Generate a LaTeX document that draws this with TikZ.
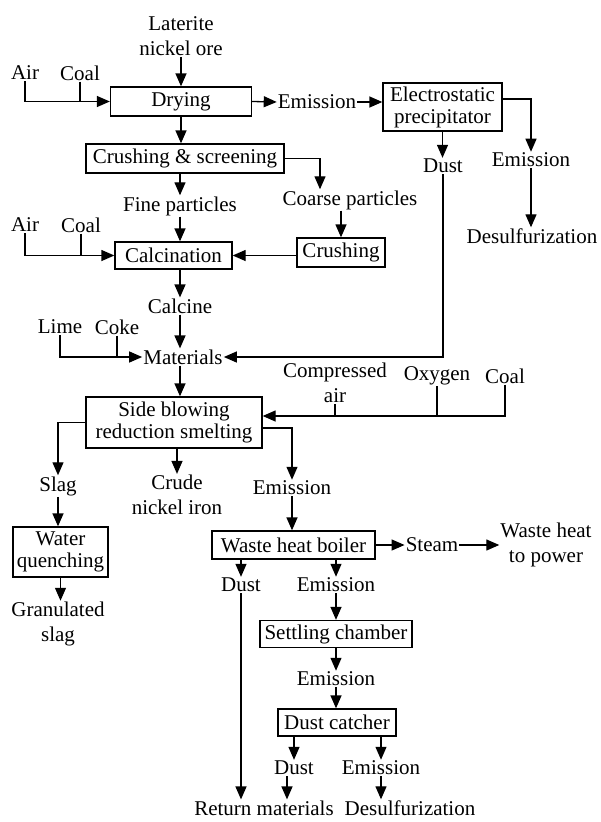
\documentclass[tikz,border=0pt]{standalone}
\usepackage{fontspec}
\setmainfont{Liberation Serif}
\usetikzlibrary{arrows.meta}
\begin{document}
\begin{tikzpicture}[x=1pt,y=-1pt,
  every node/.style={font=\fontsize{21}{25}\selectfont, inner sep=1pt},
  lbl/.style={align=center},
  box/.style={draw, line width=1.3pt, inner sep=0pt, align=center, font=\fontsize{21}{22}\selectfont},
  arr/.style={line width=1.3pt, -{Triangle[length=13pt,width=11pt]}},
  ln/.style={line width=1.3pt}]
\useasboundingbox (0,0) rectangle (600,822);
% nodes
\node[lbl] (ore) at (181,36) {Laterite\\nickel ore};
\node (air1) at (25,73) {Air};
\node (coal1) at (80,73) {Coal};
\node[box, minimum width=141, minimum height=29] (drying) at (181,101.5) {Drying};
\node (em1) at (317,102) {Emission};
\node[box, minimum width=119, minimum height=48] (esp) at (442.5,107) {Electrostatic\\precipitator};
\node (dust1) at (443,166) {Dust};
\node (em2) at (531,160) {Emission};
\node (des1) at (532,236) {Desulfurization};
\node[box, minimum width=198, minimum height=29] (cs) at (185,158.5) {Crushing \& screening};
\node (fine) at (180,206) {Fine particles};
\node (coarse) at (350,200) {Coarse particles};
\node[box, minimum width=88, minimum height=29] (crush) at (341,252.5) {Crushing};
\node (air2) at (25,225) {Air};
\node (coal2) at (81,225) {Coal};
\node[box, minimum width=117, minimum height=27] (calc) at (173.5,255.5) {Calcination};
\node (calcine) at (180,306) {Calcine};
\node (lime) at (60,327) {Lime};
\node (coke) at (117,327) {Coke};
\node (mat) at (183,357) {Materials};
\node[lbl] (comp) at (335,383) {Compressed\\air};
\node (oxy) at (437,376) {Oxygen};
\node (coal3) at (505,376) {Coal};
\node[box, minimum width=176, minimum height=51] (sb) at (174,422.5) {Side blowing\\reduction smelting};
\node (slag) at (58,486) {Slag};
\node[lbl] (crude) at (177,495) {Crude\\nickel iron};
\node (em3) at (292,488) {Emission};
\node[box, minimum width=95, minimum height=50] (wq) at (60.5,552) {Water\\quenching};
\node[lbl] (gran) at (58,624) {Granulated\\slag};
\node[box, minimum width=163, minimum height=28] (whb) at (293.5,545) {Waste heat boiler};
\node (steam) at (432,545) {Steam};
\node[lbl] (power) at (546,545) {Waste heat\\to power};
\node (dust2) at (241,585) {Dust};
\node (em4) at (336,585) {Emission};
\node[box, minimum width=152, minimum height=27] (settle) at (336,634) {Settling chamber};
\node (em5) at (336,679) {Emission};
\node[box, minimum width=118, minimum height=27] (dc) at (337,722.5) {Dust catcher};
\node (dust3) at (294,768) {Dust};
\node (em6) at (381,768) {Emission};
\node (ret) at (264,808) {Return materials};
\node (des2) at (410,808) {Desulfurization};
% connectors
\draw[arr] (ore.south) -- (ore.south |- drying.north);
\draw[arr] (air1.south) |- (drying.west);
\draw[ln] (coal1.south) -- (coal1.south |- drying.west);
\draw[arr] (drying.east) -- (em1.west);
\draw[arr] (em1.east) -- (em1.east -| esp.west);
\draw[arr] (esp.south) -- (esp.south |- dust1.north);
\draw[arr] ([yshift=8pt]esp.east) -| (em2.north);
\draw[arr] (em2.south) -- (em2.south |- des1.north);
\draw[arr] (dust1.south) |- (mat.east);
\draw[arr] (drying.south) -- (drying.south |- cs.north);
\draw[arr] (fine.north |- cs.south) -- (fine.north);
\draw[arr] (cs.east) -| ([xshift=-30pt]coarse.north);
\draw[arr] (crush.north |- coarse.south) -- (crush.north);
\draw[arr] (crush.west |- calc.east) -- (calc.east);
\draw[arr] (fine.south) -- (fine.south |- calc.north);
\draw[arr] (air2.south) |- (calc.west);
\draw[ln] (coal2.south) -- (coal2.south |- calc.west);
\draw[arr] (calcine.north |- calc.south) -- (calcine.north);
\draw[arr] (calcine.south) -- (calcine.south |- mat.north);
\draw[arr] (lime.south) |- (mat.west);
\draw[ln] (coke.south) -- (coke.south |- mat.west);
\draw[arr] (mat.south -| calcine.south) -- (calcine.south |- sb.north);
\coordinate (sbin) at ([yshift=6.5pt]sb.east);
\draw[arr] (coal3.south) |- (sbin);
\draw[ln] (oxy.south) -- (oxy.south |- sbin);
\draw[ln] (comp.south) -- (comp.south |- sbin);
\draw[arr] (sb.west) -| (slag.north);
\draw[arr] (crude.north |- sb.south) -- (crude.north);
\draw[arr] ([yshift=-5.5pt]sb.east) -| (em3.north);
\draw[arr] (slag.south) -- (slag.south |- wq.north);
\draw[arr] (wq.south) -- (wq.south |- gran.north);
\draw[arr] (em3.south) -- (em3.south |- whb.north);
\draw[arr] (whb.east) -- (steam.west);
\draw[arr] (steam.east) -- (power.west);
\draw[arr] (dust2.north |- whb.south) -- (dust2.north);
\draw[arr] (em4.north |- whb.south) -- (em4.north);
\draw[arr] (dust2.south) -- (dust2.south |- ret.north);
\draw[arr] (em4.south) -- (em4.south |- settle.north);
\draw[arr] (em5.north |- settle.south) -- (em5.north);
\draw[arr] (em5.south) -- (em5.south |- dc.north);
\draw[arr] (dust3.north |- dc.south) -- (dust3.north);
\draw[arr] (em6.north |- dc.south) -- (em6.north);
\draw[arr] ([xshift=-7pt]dust3.south) -- ([xshift=-7pt]dust3.south |- ret.north);
\draw[arr] (em6.south) -- (em6.south |- des2.north);
\end{tikzpicture}
\end{document}
